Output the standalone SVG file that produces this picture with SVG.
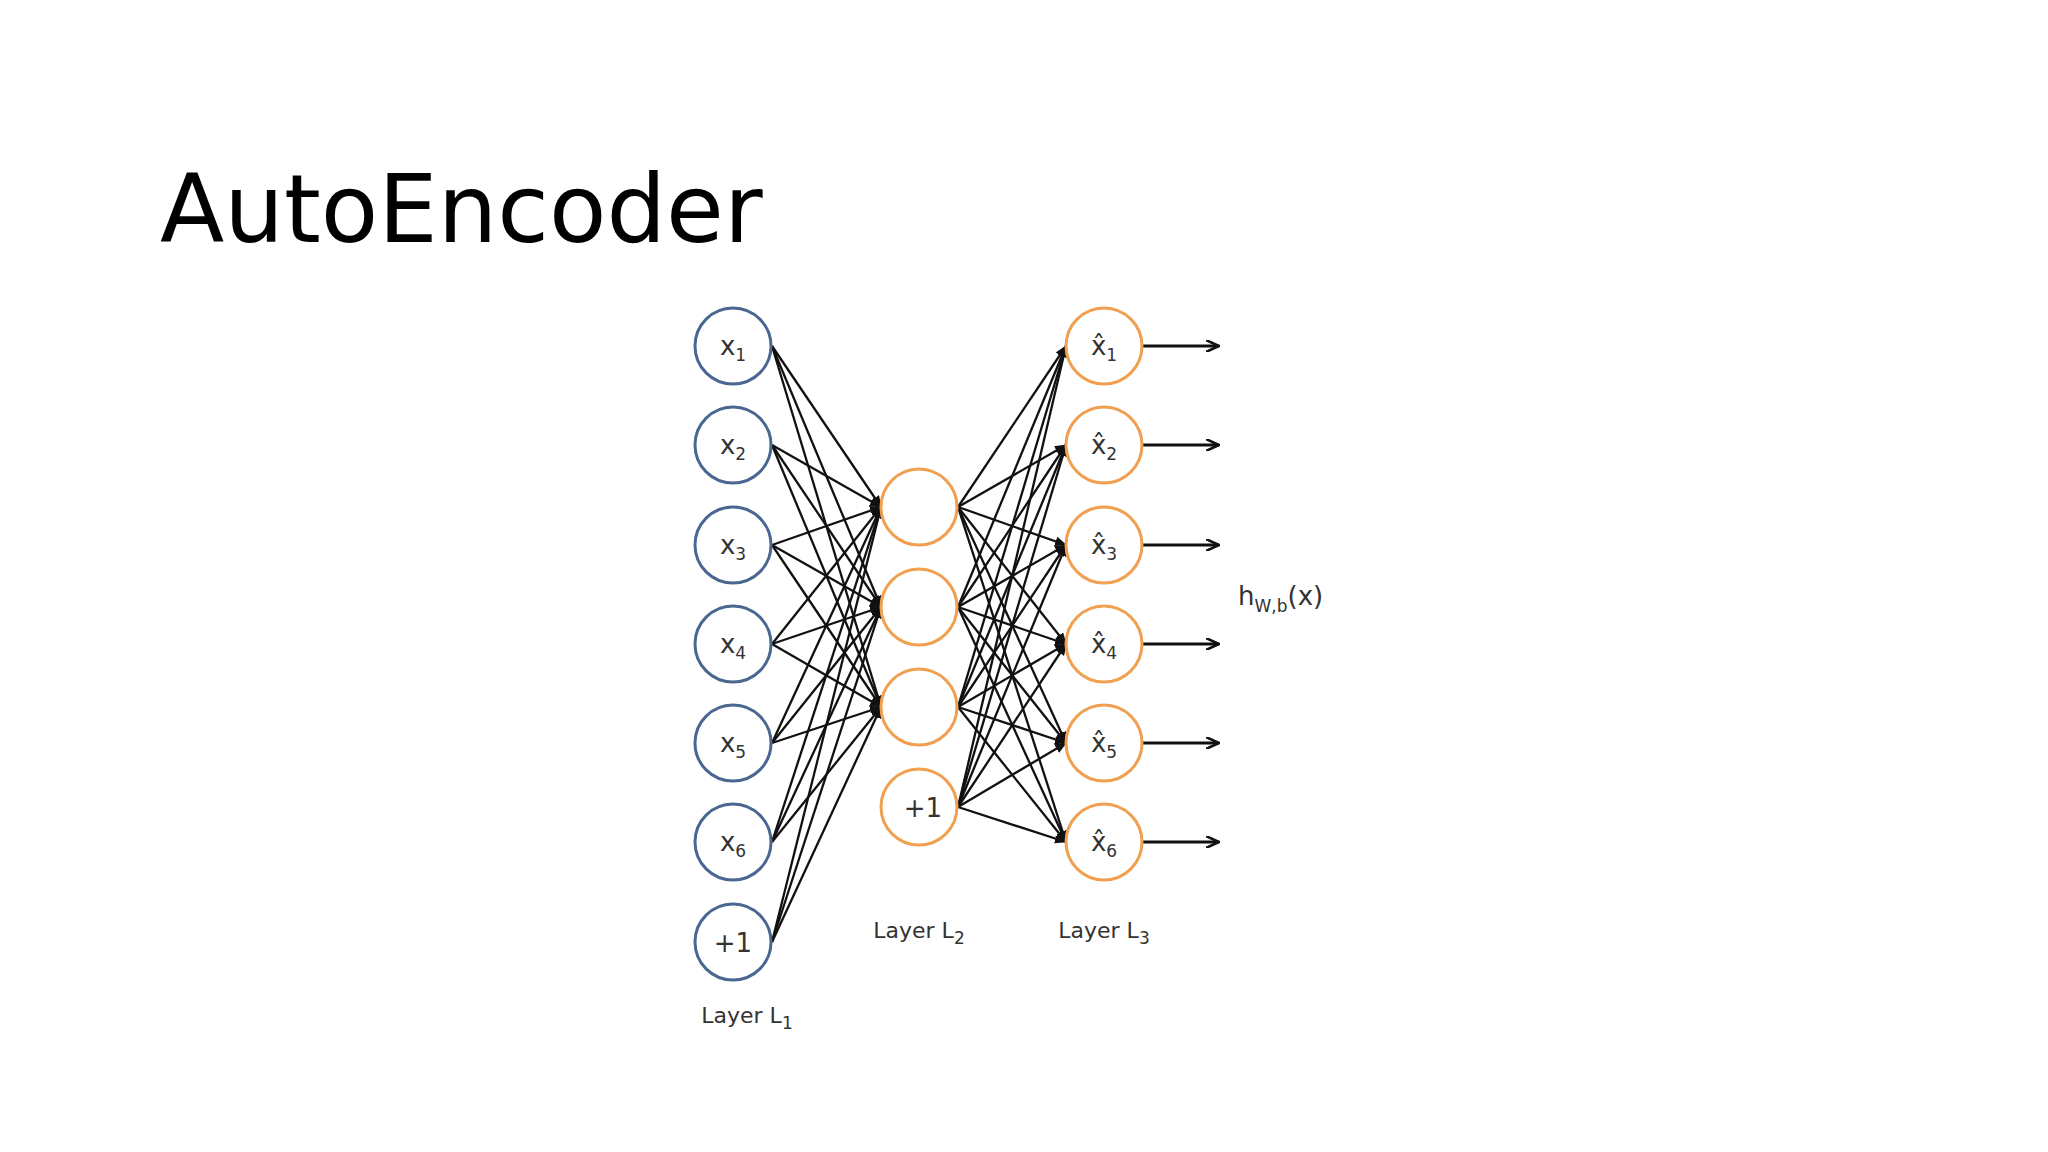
<svg xmlns="http://www.w3.org/2000/svg" width="2048" height="1152" viewBox="0 0 2048 1152">
<defs>
<marker id="ah" markerWidth="12" markerHeight="10" refX="11" refY="5" orient="auto" markerUnits="userSpaceOnUse"><path d="M0,0 L12,5 L0,10 z" fill="#111"/></marker>
<marker id="oa" markerWidth="14" markerHeight="12" refX="13" refY="6" orient="auto" markerUnits="userSpaceOnUse"><path d="M0,0 L13,6 L0,12" fill="none" stroke="#111" stroke-width="2.5"/></marker>
<style>
.b{fill:#fff;stroke:#4a6791;stroke-width:3}
.o{fill:#fff;stroke:#f0a050;stroke-width:3}
.e path{stroke:#111;stroke-width:2.3;fill:none;marker-end:url(#ah)}
.out path{stroke:#111;stroke-width:2.8;fill:none;marker-end:url(#oa)}
text{font-family:"DejaVu Sans","Liberation Sans",sans-serif;fill:#333}
.t{font-size:26px;text-anchor:middle}
.s{font-size:17px}
.lab{font-size:22px;text-anchor:middle}
</style>
</defs>
<rect width="2048" height="1152" fill="#fff"/>
<text x="160" y="242" style="font-size:94px;fill:#000">AutoEncoder</text>
<g id="connectors">
<g id="l1l2" class="e">
<path d="M772,346L881,507"/><path d="M772,346L881,607"/><path d="M772,346L881,707"/>
<path d="M772,445L881,507"/><path d="M772,445L881,607"/><path d="M772,445L881,707"/>
<path d="M772,545L881,507"/><path d="M772,545L881,607"/><path d="M772,545L881,707"/>
<path d="M772,644L881,507"/><path d="M772,644L881,607"/><path d="M772,644L881,707"/>
<path d="M772,743L881,507"/><path d="M772,743L881,607"/><path d="M772,743L881,707"/>
<path d="M772,842L881,507"/><path d="M772,842L881,607"/><path d="M772,842L881,707"/>
<path d="M772,942L881,507"/><path d="M772,942L881,607"/><path d="M772,942L881,707"/>
</g>
<g id="l2l3" class="e">
<path d="M958,507L1066,346"/><path d="M958,507L1066,445"/><path d="M958,507L1066,545"/><path d="M958,507L1066,644"/><path d="M958,507L1066,743"/><path d="M958,507L1066,842"/>
<path d="M958,607L1066,346"/><path d="M958,607L1066,445"/><path d="M958,607L1066,545"/><path d="M958,607L1066,644"/><path d="M958,607L1066,743"/><path d="M958,607L1066,842"/>
<path d="M958,707L1066,346"/><path d="M958,707L1066,445"/><path d="M958,707L1066,545"/><path d="M958,707L1066,644"/><path d="M958,707L1066,743"/><path d="M958,707L1066,842"/>
<path d="M958,807L1066,346"/><path d="M958,807L1066,445"/><path d="M958,807L1066,545"/><path d="M958,807L1066,644"/><path d="M958,807L1066,743"/><path d="M958,807L1066,842"/>
</g>
<g id="outputs" class="out">
<path d="M1143,346H1219"/><path d="M1143,445H1219"/><path d="M1143,545H1219"/><path d="M1143,644H1219"/><path d="M1143,743H1219"/><path d="M1143,842H1219"/>
</g>
</g>
<g id="x1"><circle class="b" cx="733" cy="346" r="38"/><text class="t" x="733" y="355">x<tspan class="s" dy="6">1</tspan></text></g>
<g id="x2"><circle class="b" cx="733" cy="445" r="38"/><text class="t" x="733" y="454">x<tspan class="s" dy="6">2</tspan></text></g>
<g id="x3"><circle class="b" cx="733" cy="545" r="38"/><text class="t" x="733" y="554">x<tspan class="s" dy="6">3</tspan></text></g>
<g id="x4"><circle class="b" cx="733" cy="644" r="38"/><text class="t" x="733" y="653">x<tspan class="s" dy="6">4</tspan></text></g>
<g id="x5"><circle class="b" cx="733" cy="743" r="38"/><text class="t" x="733" y="752">x<tspan class="s" dy="6">5</tspan></text></g>
<g id="x6"><circle class="b" cx="733" cy="842" r="38"/><text class="t" x="733" y="851">x<tspan class="s" dy="6">6</tspan></text></g>
<g id="b1"><circle class="b" cx="733" cy="942" r="38"/><text class="t" x="733" y="952">+1</text></g>
<g id="h1"><circle class="o" cx="919" cy="507" r="38"/></g>
<g id="h2"><circle class="o" cx="919" cy="607" r="38"/></g>
<g id="h3"><circle class="o" cx="919" cy="707" r="38"/></g>
<g id="b2"><circle class="o" cx="919" cy="807" r="38"/><text class="t" x="923" y="817">+1</text></g>
<g id="y1"><circle class="o" cx="1104" cy="346" r="38"/><text class="t" x="1104" y="355">x&#x302;<tspan class="s" dy="6">1</tspan></text></g>
<g id="y2"><circle class="o" cx="1104" cy="445" r="38"/><text class="t" x="1104" y="454">x&#x302;<tspan class="s" dy="6">2</tspan></text></g>
<g id="y3"><circle class="o" cx="1104" cy="545" r="38"/><text class="t" x="1104" y="554">x&#x302;<tspan class="s" dy="6">3</tspan></text></g>
<g id="y4"><circle class="o" cx="1104" cy="644" r="38"/><text class="t" x="1104" y="653">x&#x302;<tspan class="s" dy="6">4</tspan></text></g>
<g id="y5"><circle class="o" cx="1104" cy="743" r="38"/><text class="t" x="1104" y="752">x&#x302;<tspan class="s" dy="6">5</tspan></text></g>
<g id="y6"><circle class="o" cx="1104" cy="842" r="38"/><text class="t" x="1104" y="851">x&#x302;<tspan class="s" dy="6">6</tspan></text></g>
<text x="1238" y="605" style="font-size:26px">h<tspan class="s" dy="7">W,b</tspan><tspan dy="-7">(x)</tspan></text>
<text class="lab" x="747" y="1023">Layer L<tspan class="s" dy="6">1</tspan></text>
<text class="lab" x="919" y="938">Layer L<tspan class="s" dy="6">2</tspan></text>
<text class="lab" x="1104" y="938">Layer L<tspan class="s" dy="6">3</tspan></text>
</svg>
